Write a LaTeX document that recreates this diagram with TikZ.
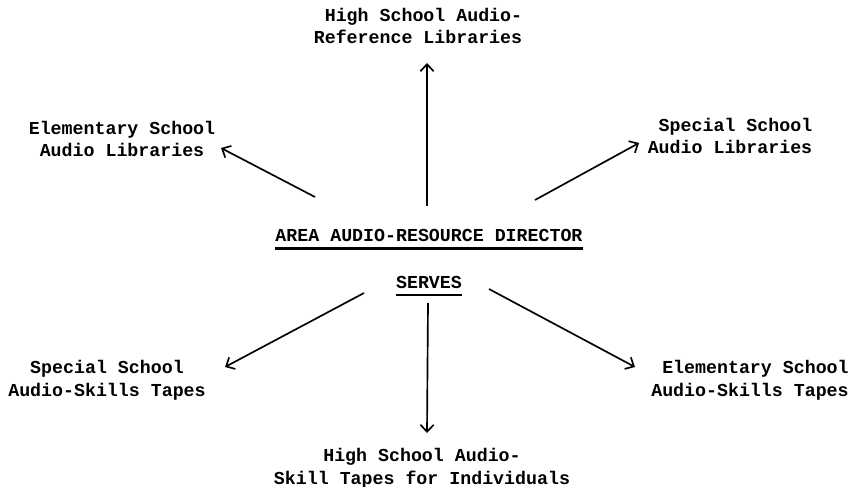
\documentclass[tikz,border=0pt]{standalone}
\usepackage{fontspec}
\newfontfamily\typer{Liberation Mono}
\usetikzlibrary{arrows.meta}
\tikzset{font=\typer\bfseries\fontsize{10.4}{13}\selectfont}
\tikzstyle{label}=[inner sep=0pt]
\tikzstyle{serve}=[line width=0.95pt,-{Straight Barb[length=4pt,width=7.5pt,line width=0.95pt]}]

\begin{document}
\begin{tikzpicture}[x=0.02cm,y=-0.02cm]
	\useasboundingbox (0,0) rectangle (853,487);
	% the centre
	\node [style=label] (director) at (429, 235) {AREA AUDIO-RESOURCE DIRECTOR};
	\node [style=label] (serves) at (429, 282) {SERVES};
	\draw[line width=1.5pt] ([yshift=-4.2pt]director.base west) to ([yshift=-4.2pt]director.base east);
	\draw[line width=0.9pt] ([yshift=-4pt]serves.base west) to ([yshift=-4pt]serves.base east);
	% what it serves
	\node [style=label, align=right] (hsref) at (418, 26) {High School Audio-\\Reference Libraries};
	\node [style=label, align=center] (elemlib) at (122, 139) {Elementary School\\Audio Libraries};
	\node [style=label, align=right] (speclib) at (730, 136) {Special School\\Audio Libraries};
	\node [style=label, align=center] (specskill) at (107, 380) {Special School\\Audio-Skills Tapes};
	\node [style=label, align=right] (elemskill) at (750, 380) {Elementary School\\Audio-Skills Tapes};
	\node [style=label, align=center] (hsskill) at (422, 468) {High School Audio-\\Skill Tapes for Individuals};
	% arrow ends
	\coordinate (0) at (427, 206);
	\coordinate (1) at (427, 63);
	\coordinate (2) at (315, 197);
	\coordinate (3) at (221, 148);
	\coordinate (4) at (535, 200);
	\coordinate (5) at (639, 143);
	\coordinate (6) at (364, 293);
	\coordinate (7) at (225, 367);
	\coordinate (8) at (428, 303);
	\coordinate (9) at (427, 433);
	\coordinate (10) at (489, 289);
	\coordinate (11) at (635, 367);
	\draw[style=serve] (0) to (1);
	\draw[style=serve] (2) to (3);
	\draw[style=serve] (4) to (5);
	\draw[style=serve] (6) to (7);
	\draw[style=serve] (8) to (9);
	\draw[style=serve] (10) to (11);
\end{tikzpicture}
\end{document}
